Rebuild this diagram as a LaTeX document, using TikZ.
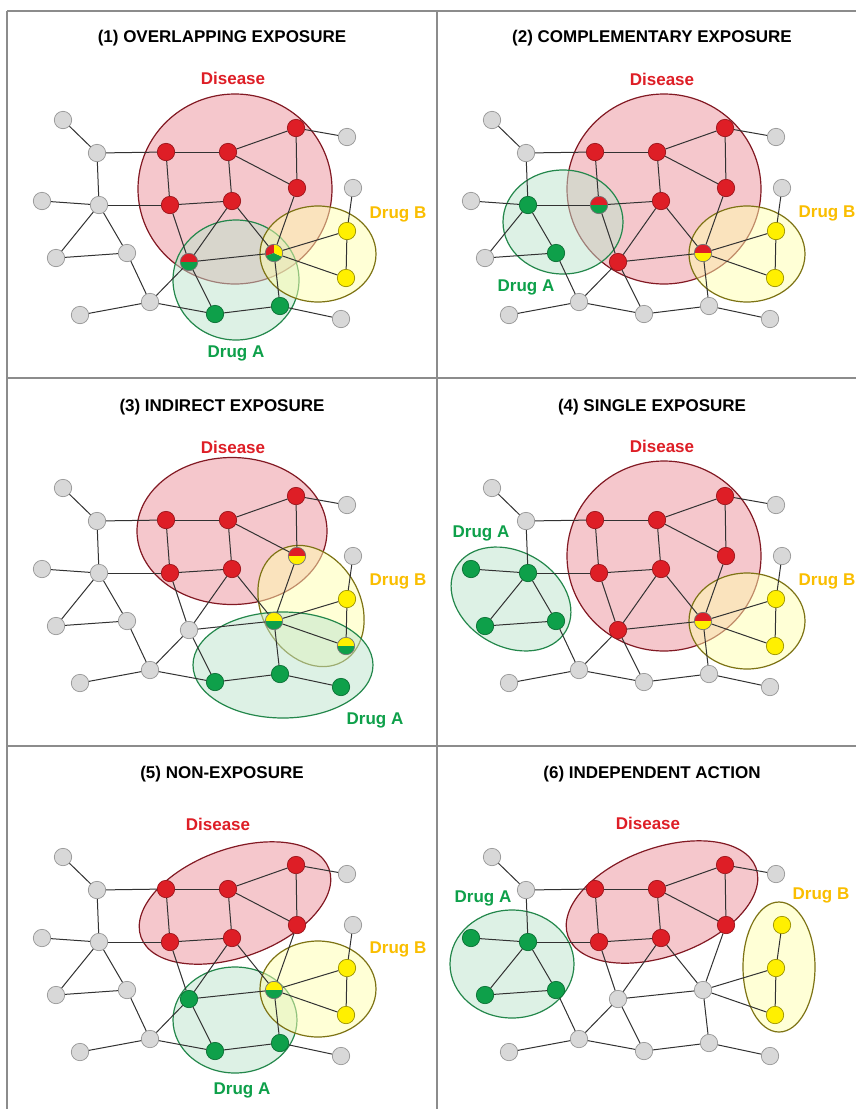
\documentclass[tikz,border=0pt]{standalone}
\usepackage{fontspec}
\setmainfont{Liberation Sans}
\usetikzlibrary{shapes.geometric}

% palette
\definecolor{disRed}{RGB}{222,30,38}
\definecolor{drugGreen}{RGB}{14,160,74}
\definecolor{drugYellow}{RGB}{255,240,0}
\definecolor{labYellow}{RGB}{250,190,0}
\definecolor{nodeGrey}{RGB}{216,216,216}
\definecolor{nodeGreyLine}{RGB}{150,150,150}
\definecolor{disFill}{RGB}{237,145,155}
\definecolor{disLine}{RGB}{130,25,35}
\definecolor{aFill}{RGB}{189,229,205}
\definecolor{aLine}{RGB}{35,135,75}
\definecolor{bFill}{RGB}{255,255,175}
\definecolor{bLine}{RGB}{125,115,20}
\definecolor{frameGrey}{RGB}{140,140,140}
\definecolor{edgeGrey}{RGB}{50,50,50}

\tikzset{
  vtx/.style={circle, inner sep=0pt, minimum size=17.4pt, line width=0.7pt},
  greyv/.style={vtx, fill=nodeGrey, draw=nodeGreyLine},
  redv/.style={vtx, fill=disRed, draw=disRed!70!black},
  greenv/.style={vtx, fill=drugGreen, draw=drugGreen!70!black},
  yellowv/.style={vtx, fill=drugYellow, draw=drugYellow!60!black},
  halfv/.style 2 args={vtx, draw=black!55, path picture={
      \fill[#1] (path picture bounding box.north west) rectangle (path picture bounding box.east);
      \fill[#2] (path picture bounding box.west) rectangle (path picture bounding box.south east);}},
  triv/.style={vtx, draw=black!55, path picture={
      \fill[disRed] (path picture bounding box.center) -- +(90:20pt) -- +(145:20pt) -- +(200:20pt) -- cycle;
      \fill[drugGreen] (path picture bounding box.center) -- +(200:20pt) -- +(268:20pt) -- +(335:20pt) -- cycle;
      \fill[drugYellow] (path picture bounding box.center) -- +(335:20pt) -- +(32:20pt) -- +(90:20pt) -- cycle;}},
  edge/.style={draw=edgeGrey, line width=1pt},
  region/.style={ellipse, inner sep=0pt, fill opacity=0.5, line width=1.2pt},
  disreg/.style={region, draw=disLine, fill=disFill},
  areg/.style={region, draw=aLine, fill=aFill},
  breg/.style={region, draw=bLine, fill=bFill},
  lab/.style={font=\bfseries\fontsize{17}{20}\selectfont, inner sep=0pt, text height=12.2pt, text depth=0pt},
  ttl/.style={lab, text=black},
  frame/.style={draw=frameGrey, line width=1.8pt},
  % default colouring of the vertices
  v-g1/.style=greyv, v-g2/.style=greyv, v-g3/.style=greyv, v-g4/.style=greyv,
  v-g5/.style=greyv, v-g6/.style=greyv, v-g7/.style=greyv, v-g8/.style=greyv,
  v-g9/.style=greyv, v-g10/.style=greyv, v-g11/.style=greyv,
  v-r1/.style=redv, v-r2/.style=redv, v-r3/.style=redv, v-r4/.style=redv,
  v-r5/.style=redv, v-r6/.style=redv,
  v-m1/.style=greyv, v-m2/.style=greyv,
  v-gr1/.style=greyv, v-gr2/.style=greyv,
  v-y1/.style=yellowv, v-y2/.style=yellowv,
}

% the shared network, names prefixed by #1
\newcommand\netgraph[1]{%
  \node[v-g1] (#1g1) at (63,120) {};
  \node[v-g2] (#1g2) at (97,153) {};
  \node[v-g3] (#1g3) at (42,201) {};
  \node[v-g4] (#1g4) at (99,205) {};
  \node[v-g5] (#1g5) at (56,258) {};
  \node[v-g6] (#1g6) at (127,253) {};
  \node[v-g7] (#1g7) at (150,302) {};
  \node[v-g8] (#1g8) at (80,315) {};
  \node[v-g9] (#1g9) at (347,137) {};
  \node[v-g10] (#1g10) at (353,188) {};
  \node[v-g11] (#1g11) at (341,319) {};
  \node[v-r1] (#1r1) at (166,152) {};
  \node[v-r2] (#1r2) at (228,152) {};
  \node[v-r3] (#1r3) at (296,128) {};
  \node[v-r4] (#1r4) at (297,188) {};
  \node[v-r5] (#1r5) at (170,205) {};
  \node[v-r6] (#1r6) at (232,201) {};
  \node[v-m1] (#1m1) at (189,262) {};
  \node[v-m2] (#1m2) at (274,253) {};
  \node[v-y1] (#1y1) at (347,231) {};
  \node[v-y2] (#1y2) at (346,278) {};
  \node[v-gr1] (#1gr1) at (215,314) {};
  \node[v-gr2] (#1gr2) at (280,306) {};
  \foreach \a/\b in {g1/g2, g2/r1, g2/g4, g3/g4, g4/r5, g4/g5, g4/g6, g5/g6,
      g6/g7, g7/g8, g7/m1, g7/gr1, m1/gr1, m1/r5, m1/r6, m1/m2, m2/r6, m2/r4,
      m2/y1, m2/y2, m2/gr2, gr1/gr2, gr2/g11, r1/r2, r1/r5, r2/r3, r2/r4,
      r2/r6, r3/r4, r3/g9, r5/r6, y1/y2, y1/g10}
    {\draw[edge] (#1\a) -- (#1\b);}
}

\begin{document}
\begin{tikzpicture}[x=1pt, y=-1pt]
\useasboundingbox (0,0) rectangle (856,1109);
\clip (0,0) rectangle (856,1109);
\fill[white] (0,0) rectangle (856,1109);

% panel frame
\draw[frame] (7,11) -- (880,11);
\draw[frame] (7,11) -- (7,1120);
\draw[frame] (437,11) -- (437,1120);
\draw[frame] (7,378) -- (880,378);
\draw[frame] (7,746) -- (880,746);

% (1) overlapping exposure
\begin{scope}[shift={(0,0)},
    v-m1/.style={halfv={disRed}{drugGreen}}, v-m2/.style=triv,
    v-gr1/.style=greenv, v-gr2/.style=greenv]
  \node[ttl] (p1t) at (222,36) {(1) OVERLAPPING EXPOSURE};
  \node[disreg, minimum width=194pt, minimum height=190pt] (p1dis) at (235,189) {};
  \node[areg, minimum width=126pt, minimum height=120pt] (p1a) at (236,280) {};
  \node[breg, minimum width=116pt, minimum height=96pt] (p1b) at (318,254) {};
  \node[lab, text=disRed] (p1disl) at (233,78) {Disease};
  \node[lab, text=labYellow] (p1bl) at (398,212) {Drug B};
  \node[lab, text=drugGreen] (p1al) at (236,351) {Drug A};
  \netgraph{p1}
\end{scope}

% (2) complementary exposure
\begin{scope}[shift={(429,0)},
    v-g4/.style=greenv, v-g6/.style=greenv,
    v-r5/.style={halfv={disRed}{drugGreen}}, v-m1/.style=redv,
    v-m2/.style={halfv={disRed}{drugYellow}}]
  \node[ttl] (p2t) at (223,36) {(2) COMPLEMENTARY EXPOSURE};
  \node[disreg, minimum width=194pt, minimum height=190pt] (p2dis) at (235,189) {};
  \node[areg, minimum width=120pt, minimum height=104pt] (p2a) at (134,222) {};
  \node[breg, minimum width=116pt, minimum height=96pt] (p2b) at (318,254) {};
  \node[lab, text=disRed] (p2disl) at (233,79) {Disease};
  \node[lab, text=drugGreen] (p2al) at (97,285) {Drug A};
  \node[lab, text=labYellow] (p2bl) at (398,211) {Drug B};
  \netgraph{p2}
\end{scope}

% (3) indirect exposure
\begin{scope}[shift={(0,368)},
    v-r4/.style={halfv={disRed}{drugYellow}},
    v-m2/.style={halfv={drugYellow}{drugGreen}},
    v-y2/.style={halfv={drugYellow}{drugGreen}},
    v-gr1/.style=greenv, v-gr2/.style=greenv, v-g11/.style=greenv]
  \node[ttl] (p3t) at (222,37) {(3) INDIRECT EXPOSURE};
  \node[disreg, minimum width=190pt, minimum height=147pt] (p3dis) at (232,163) {};
  \node[breg, minimum width=128pt, minimum height=98pt, rotate=-60] (p3b) at (311,238) {};
  \node[areg, minimum width=180pt, minimum height=106pt] (p3a) at (283,297) {};
  \node[lab, text=disRed] (p3disl) at (233,79) {Disease};
  \node[lab, text=labYellow] (p3bl) at (398,211) {Drug B};
  \node[lab, text=drugGreen] (p3al) at (375,350) {Drug A};
  \netgraph{p3}
\end{scope}

% (4) single exposure
\begin{scope}[shift={(429,368)},
    v-g3/.style=greenv, v-g4/.style=greenv, v-g5/.style=greenv, v-g6/.style=greenv,
    v-m1/.style=redv, v-m2/.style={halfv={disRed}{drugYellow}}]
  \node[ttl] (p4t) at (223,37) {(4) SINGLE EXPOSURE};
  \node[disreg, minimum width=194pt, minimum height=190pt] (p4dis) at (235,188) {};
  \node[areg, minimum width=127pt, minimum height=95pt, rotate=-30] (p4a) at (82,231) {};
  \node[breg, minimum width=116pt, minimum height=96pt] (p4b) at (318,253) {};
  \node[lab, text=drugGreen] (p4al) at (52,163) {Drug A};
  \node[lab, text=disRed] (p4disl) at (233,78) {Disease};
  \node[lab, text=labYellow] (p4bl) at (398,211) {Drug B};
  \netgraph{p4}
\end{scope}

% (5) non-exposure
\begin{scope}[shift={(0,737)},
    v-m1/.style=greenv, v-m2/.style={halfv={drugYellow}{drugGreen}},
    v-gr1/.style=greenv, v-gr2/.style=greenv]
  \node[ttl] (p5t) at (222,35) {(5) NON-EXPOSURE};
  \node[disreg, minimum width=200pt, minimum height=108pt, rotate=20] (p5dis) at (235,166) {};
  \node[areg, minimum width=124pt, minimum height=106pt] (p5a) at (235,283) {};
  \node[breg, minimum width=116pt, minimum height=96pt] (p5b) at (318,252) {};
  \node[lab, text=disRed] (p5disl) at (218,87) {Disease};
  \node[lab, text=labYellow] (p5bl) at (398,210) {Drug B};
  \node[lab, text=drugGreen] (p5al) at (242,351) {Drug A};
  \netgraph{p5}
\end{scope}

% (6) independent action
\begin{scope}[shift={(429,737)},
    v-g3/.style=greenv, v-g4/.style=greenv, v-g5/.style=greenv, v-g6/.style=greenv,
    v-g10/.style=yellowv]
  \node[ttl] (p6t) at (223,35) {(6) INDEPENDENT ACTION};
  \node[disreg, minimum width=200pt, minimum height=108pt, rotate=20] (p6dis) at (233,165) {};
  \node[areg, minimum width=124pt, minimum height=108pt] (p6a) at (83,227) {};
  \node[breg, minimum width=72pt, minimum height=130pt] (p6b) at (350,230) {};
  \node[lab, text=drugGreen] (p6al) at (54,159) {Drug A};
  \node[lab, text=disRed] (p6disl) at (219,86) {Disease};
  \node[lab, text=labYellow] (p6bl) at (392,156) {Drug B};
  \netgraph{p6}
\end{scope}
\end{tikzpicture}
\end{document}
